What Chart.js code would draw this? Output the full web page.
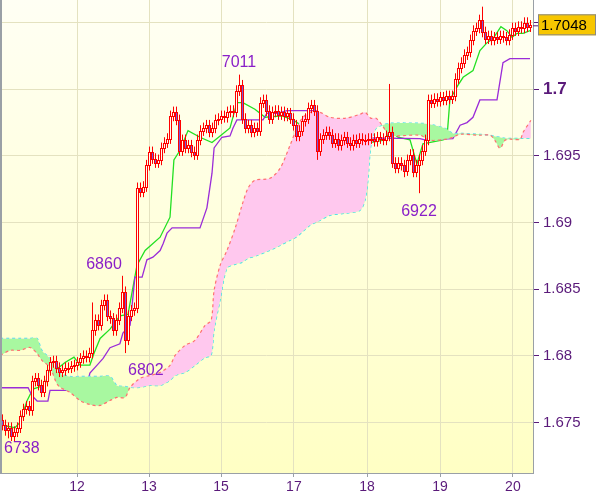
<!DOCTYPE html>
<html><head><meta charset="utf-8">
<script src="https://cdn.jsdelivr.net/npm/chart.js@4"></script>
<style>html,body{margin:0;padding:0;background:#fff}#w{width:600px;height:497px}</style>
</head><body><div id="w"><canvas id="c"></canvas></div>
<script>
// Hourly closes, bar index 0..176
const closes=[1.6748,1.6744,1.6746,1.6740,1.6743,1.6746,1.6755,1.6760,1.6762,1.6759,
1.6781,1.6783,1.6778,1.6773,1.6781,1.6789,1.6795,1.6796,1.6791,1.6788,1.6789,1.6791,
1.6791,1.6792,1.6793,1.6795,1.6798,1.6800,1.6799,1.6802,1.6819,1.6827,1.6823,1.6838,1.6842,1.6830,
1.6828,1.6819,1.6827,1.6836,1.6848,1.6812,1.6830,1.6834,1.6836,1.6926,1.6923,1.6927,1.6943,
1.6953,1.6948,1.6945,1.6947,1.6956,1.6960,1.6963,1.6980,1.6983,1.6977,1.6954,1.6962,1.6956,
1.6958,1.6953,1.6951,1.6962,1.6969,1.6971,1.6973,1.6968,1.6971,1.6977,1.6978,1.6980,1.6979,
1.6983,1.6984,1.6983,1.6999,1.7003,1.6978,1.6971,1.6973,1.6968,1.6971,1.6969,1.6990,1.6992,
1.6984,1.6978,1.6983,1.6984,1.6981,1.6983,1.6980,1.6982,1.6978,1.6973,1.6965,1.6969,1.6976,1.6978,
1.6986,1.6988,1.6984,1.6954,1.6963,1.6966,1.6968,1.6966,1.6960,1.6963,1.6958,1.6962,1.6964,
1.6960,1.6958,1.6962,1.6960,1.6963,1.6962,1.6962,1.6963,1.6963,1.6961,1.6964,1.6963,1.6962,1.6965,
1.6968,1.6945,1.6941,1.6945,1.6943,1.6939,1.6947,1.6951,1.6938,1.6943,1.6947,1.6954,1.6962,
1.6992,1.6990,1.6993,1.6991,1.6994,1.6992,1.6995,1.6993,1.6995,1.7008,1.7016,1.7020,1.7026,
1.7028,1.7037,1.7044,1.7046,1.7052,1.7043,1.7038,1.7040,1.7037,1.7039,1.7038,1.7040,1.7039,1.7037,1.7041,
1.7046,1.7044,1.7047,1.7046,1.7050,1.7047,1.7048];
const firstOpen=1.6752;
const wick=0.0004;
// notable extremes [barIndex, high, low]
const extremes=[[2,null,1.6738],[40,1.6860,null],[41,null,1.6802],[79,1.7011,null],[105,null,1.6947],[129,1.7004,null],[139,null,1.6922],[160,1.7062,null],[30,1.6840,null],[134,null,1.6934]];
// Tenkan-sen [barIndex, value]
const tenkan=[[0,1.6748],[4.3,1.6746],[6,1.6750],[8.3,1.6766],[10.3,1.6775],[14.3,1.6778],[16,1.6791],[18.3,1.6790],[21,1.6795],[24,1.6799],[26,1.6793],[29.3,1.6793],[30.7,1.6802],[32.7,1.6813],[36,1.6820],[39.3,1.6830],[42,1.6831],[45,1.6868],[47.7,1.6879],[52.7,1.6889],[56,1.6904],[57.3,1.6947],[59.3,1.6954],[62,1.6969],[66,1.6964],[70,1.6960],[72.7,1.6965],[76,1.6971],[78.3,1.6990],[80.3,1.6990],[84.3,1.6985],[87.7,1.6979],[93.3,1.6980],[97,1.6977],[101,1.6971],[105.3,1.6971],[107.7,1.6965],[113.3,1.6968],[117.7,1.6963],[122.7,1.6960],[127.7,1.6962],[129.3,1.6969],[132,1.6964],[136,1.6962],[138.3,1.6944],[140.3,1.6959],[147,1.6962],[148.3,1.6963],[149.3,1.6992],[151.7,1.7002],[153.7,1.7009],[157,1.7014],[159.3,1.7029],[161.7,1.7035],[163.7,1.7038],[166.3,1.7047],[168.3,1.7044],[170,1.7039],[171.7,1.7042],[173.7,1.7042],[176,1.7044]];
// Kijun-sen
const kijun=[[0,1.6776],[8.7,1.6776],[10,1.6770],[11.7,1.6766],[15.3,1.6766],[16,1.6774],[27.7,1.6774],[28.3,1.6778],[29.3,1.6787],[31.7,1.6793],[33.7,1.6798],[36,1.6806],[39.3,1.6809],[40.3,1.6817],[42.7,1.6823],[44.3,1.6859],[46.7,1.6859],[48.3,1.6872],[50.3,1.6874],[52.7,1.6879],[53.7,1.6884],[55,1.6892],[56.7,1.6896],[66,1.6896],[68.3,1.6911],[70,1.6937],[70.7,1.6956],[73.3,1.6964],[76,1.6965],[77,1.6971],[78.3,1.6977],[87,1.6977],[88.3,1.6982],[91.7,1.6982],[95,1.6984],[104.7,1.6984],[105.7,1.6964],[139.3,1.6963],[141,1.6962],[150.3,1.6963],[152.7,1.6973],[155,1.6975],[157,1.6979],[159.3,1.6992],[165,1.6992],[167,1.7020],[169.3,1.7023],[176,1.7023]];
// Cloud: bar index, Senkou A, Senkou B
const cloudIdx=[-0.6,2.7,6,9.3,11.7,13.3,16,18.7,22.7,26,29.3,32.7,36,38.3,41,42.7,46,49.3,52.7,56,57.7,61,64.3,67.7,69.7,70.7,72.7,75,77.7,80,82,84.3,89.3,92.7,96,98,100,102.7,106,109.3,114.3,119.3,121,122,123,124.7,126.7,129.3,139.3,142.7,147.7,150.3,152.7,159.3,162.7,164.3,166,167.7,169.3,172.7,173.7,176.3];
const spanA=[1.68002,1.68040,1.68040,1.68062,1.68017,1.67965,1.67912,1.67777,1.67724,1.67664,1.67634,1.67627,1.67664,1.67687,1.67687,1.67762,1.67830,1.67852,1.67875,1.67927,1.68002,1.68077,1.68115,1.68228,1.68265,1.68490,1.68678,1.68791,1.68956,1.69129,1.69257,1.69317,1.69332,1.69407,1.69579,1.69692,1.69782,1.69827,1.69827,1.69790,1.69782,1.69812,1.69827,1.69805,1.69782,1.69782,1.69730,1.69655,1.69655,1.69617,1.69625,1.69640,1.69662,1.69655,1.69655,1.69617,1.69557,1.69617,1.69625,1.69625,1.69677,1.69767];
const spanB=[1.68130,1.68130,1.68130,1.68130,1.68130,1.68040,1.67980,1.67875,1.67845,1.67845,1.67845,1.67845,1.67845,1.67777,1.67770,1.67762,1.67762,1.67777,1.67777,1.67815,1.67852,1.67875,1.67927,1.67987,1.68002,1.68190,1.68415,1.68656,1.68686,1.68701,1.68731,1.68746,1.68791,1.68828,1.68866,1.68889,1.68926,1.68979,1.69016,1.69054,1.69069,1.69091,1.69166,1.69317,1.69579,1.69707,1.69730,1.69745,1.69745,1.69737,1.69707,1.69670,1.69670,1.69662,1.69655,1.69647,1.69640,1.69632,1.69632,1.69632,1.69632,1.69632];
const dayTicks=[25,49,73,97.3,121.7,146,170.3];
const dayLabels=['12','13','15','17','18','19','20'];
const priceTicks=[1.675,1.68,1.685,1.69,1.695,1.7,1.705];
const lastPrice='1.7048';
const notes=[{bar:79,v:1.7011,t:'7011',pos:'above'},{bar:34,v:1.6840,t:'6860',pos:'above'},{bar:41,v:1.6802,t:'6802',pos:'right'},{bar:139,v:1.6922,t:'6922',pos:'below'},{bar:2,v:1.6738,t:'6738',pos:'below'}];

const opens=closes.map((c,i)=>i===0?firstOpen:closes[i-1]);
const highs=closes.map((c,i)=>Math.max(c,opens[i])+wick);
const lows=closes.map((c,i)=>Math.min(c,opens[i])-wick);
extremes.forEach(([i,h,l])=>{if(h!==null)highs[i]=h;if(l!==null)lows[i]=l;});

const pts=a=>a.map(p=>({x:p[0],y:p[1]}));
const ctx=document.getElementById('c');
const bg={id:'bg',beforeDraw(ch){const {ctx:c,chartArea:a}=ch;const g=c.createLinearGradient(0,a.top,0,a.bottom);g.addColorStop(0,'#fffff4');g.addColorStop(1,'#ffffc4');c.save();c.fillStyle=g;c.fillRect(a.left,a.top,a.right-a.left,a.bottom-a.top);c.restore();},
afterDraw(ch){const {ctx:c,chartArea:a,scales:s}=ch;c.save();c.strokeStyle='#9aa0a6';c.lineWidth=1;c.strokeRect(a.left+0.5,a.top-0.5,a.right-a.left,a.bottom-a.top+1);
 c.fillStyle='#9aa0a6';c.fillRect(0,0,2,a.bottom);
 const y=s.y.getPixelForValue(1.7048);c.fillStyle='#f7c600';c.fillRect(a.right+5,y-11,58,21);c.strokeStyle='#888';c.strokeRect(a.right+5.5,y-10.5,57,20);
 c.fillStyle='#000';c.font='15px "Liberation Sans",Arial';c.textBaseline='middle';c.fillText(lastPrice,a.right+8,y+1);
 c.strokeStyle='#5a1a7a';c.beginPath();c.moveTo(a.right,y+0.5);c.lineTo(a.right+5,y+0.5);c.stroke();
 c.font='16px "Liberation Sans",Arial';c.fillStyle='#8a1fc8';
 notes.forEach(n=>{const x=s.x.getPixelForValue(n.bar),yy=s.y.getPixelForValue(n.v);
  if(n.pos==='above'){c.textAlign='center';c.textBaseline='bottom';c.fillText(n.t,x,n.t==='6860'?yy-30:yy-4);}
  else if(n.pos==='below'){c.textAlign=n.t==='6738'?'left':'center';c.textBaseline='top';c.fillText(n.t,n.t==='6738'?4:x,n.t==='6922'?yy+10:yy+2);}
  else {c.textAlign='left';c.textBaseline='middle';c.fillText(n.t,x+3,yy+18);} });
 c.restore();}};
const candles={id:'candles',afterDatasetsDraw(ch){const {ctx:c,scales:s}=ch;c.save();c.lineWidth=1;
 closes.forEach((cl,i)=>{const x=Math.round(s.x.getPixelForValue(i));const o=opens[i];
  const yh=s.y.getPixelForValue(highs[i]),yl=s.y.getPixelForValue(lows[i]);
  const yt=Math.round(s.y.getPixelForValue(Math.max(o,cl))),yb=Math.round(s.y.getPixelForValue(Math.min(o,cl)));
  c.strokeStyle='#ff0000';c.beginPath();c.moveTo(x+0.5,yh);c.lineTo(x+0.5,yl);c.stroke();
  c.fillStyle=cl<o?'#7a55d8':'#fffff0';c.fillRect(x-1,yt,3,Math.max(1,yb-yt));
  c.strokeRect(x-1+0.5,yt+0.5,2,Math.max(1,yb-yt));});
 c.restore();}};
const normFont={size:15,family:'"Liberation Sans",Arial'};
const boldFont={size:17,weight:'bold',family:'"Liberation Sans",Arial'};
new Chart(ctx,{type:'scatter',data:{datasets:[
 {label:'A',data:pts(cloudIdx.map((x,i)=>[x,spanA[i]])),showLine:true,borderColor:'#ff7070',borderDash:[3,3],borderWidth:1.2,pointRadius:0,tension:0.3,fill:{target:1,above:'#ffc8ee',below:'#a8f8a0'}},
 {label:'B',data:pts(cloudIdx.map((x,i)=>[x,spanB[i]])),showLine:true,borderColor:'#40e0f0',borderDash:[3,3],borderWidth:1.2,pointRadius:0,tension:0.3,fill:false},
 {label:'Kijun',data:pts(kijun),showLine:true,borderColor:'#9a2cd8',borderWidth:1.3,pointRadius:0,fill:false},
 {label:'Tenkan',data:pts(tenkan),showLine:true,borderColor:'#22e022',borderWidth:1.3,pointRadius:0,fill:false}
]},plugins:[bg,candles],options:{responsive:true,maintainAspectRatio:false,animation:false,
 layout:{padding:0},plugins:{legend:{display:false},tooltip:{enabled:false}},
 scales:{x:{type:'linear',min:-0.67,max:177,afterBuildTicks:a=>{a.ticks=dayTicks.map(v=>({value:v}));},
   afterFit:a=>{a.height=24;a.paddingLeft=0;a.paddingRight=0;},grid:{color:'#e4e2c0',drawTicks:true,tickLength:4,tickColor:'#9aa0a6'},border:{display:false},
   ticks:{callback:(v)=>{const k=dayTicks.indexOf(v);return k<0?'':dayLabels[k];},color:'#5a1a7a',font:{size:14,family:'"Liberation Sans",Arial'},maxRotation:0,padding:2,autoSkip:false}},
  y:{position:'right',min:1.6712,max:1.7067,afterBuildTicks:a=>{a.ticks=priceTicks.map(v=>({value:v}));},afterFit:a=>{a.width=67;a.paddingTop=0;a.paddingBottom=0;},
   grid:{color:'#e4e2c0',tickLength:6,tickColor:'#5a1a7a'},border:{display:false},
   ticks:{callback:v=>{const r=Math.round(v*1000)/1000;return r===1.705?'':String(r);},color:'#5a1a7a',padding:4,
    font:c=>((c&&c.tick&&Math.abs(c.tick.value-1.7)<1e-9)?boldFont:normFont)}}}}});
</script></body></html>
